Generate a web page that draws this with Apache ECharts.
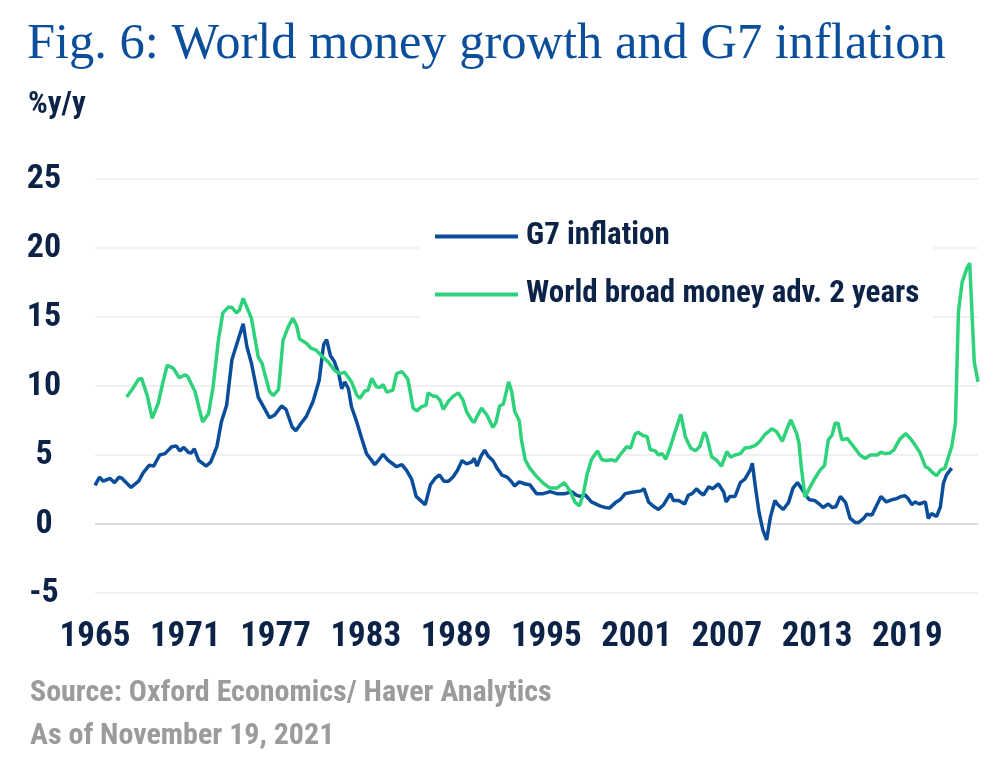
<!DOCTYPE html>
<html>
<head>
<meta charset="utf-8">
<script src="https://cdn.jsdelivr.net/npm/echarts@6/dist/echarts.min.js"></script>
<style>
html,body{margin:0;padding:0;background:#fff;}
#chart{width:1000px;height:773px;}
</style>
</head>
<body>
<div id="chart"></div>
<script>
// ---- data ----
const xTickYears = [1965, 1971, 1977, 1983, 1989, 1995, 2001, 2007, 2013, 2019];
const yTicks = [-5, 0, 5, 10, 15, 20, 25];

const inflYears = [1965.0,1965.3,1965.55,1966.0,1966.3,1966.6,1966.8,1967.4,1967.9,1968.2,1968.6,1968.9,1969.3,1969.65,1970.1,1970.4,1970.65,1970.9,1971.2,1971.4,1971.6,1971.9,1972.4,1972.7,1973.1,1973.4,1973.75,1974.1,1974.5,1974.85,1975.1,1975.4,1975.85,1976.2,1976.6,1976.95,1977.4,1977.7,1978.1,1978.35,1978.7,1979.05,1979.5,1979.9,1980.2,1980.4,1980.65,1980.9,1981.2,1981.4,1981.6,1981.85,1982.05,1982.4,1982.7,1983.05,1983.6,1983.8,1984.15,1984.5,1985.05,1985.4,1985.7,1986.05,1986.35,1986.6,1986.95,1987.3,1987.6,1987.9,1988.2,1988.5,1988.8,1989.1,1989.4,1989.7,1990.05,1990.2,1990.4,1990.65,1990.9,1991.15,1991.45,1991.7,1992.05,1992.4,1992.7,1992.9,1993.2,1993.6,1993.9,1994.35,1994.8,1995.25,1995.7,1996.25,1996.7,1997.0,1997.25,1997.6,1998.0,1998.6,1998.9,1999.2,1999.6,1999.9,2000.25,2000.7,2001.3,2001.5,2001.8,2002.1,2002.45,2002.8,2003.25,2003.45,2003.8,2004.2,2004.45,2004.7,2005.0,2005.2,2005.45,2005.8,2006.05,2006.45,2006.8,2006.95,2007.2,2007.55,2007.9,2008.2,2008.55,2008.7,2008.9,2009.15,2009.4,2009.65,2009.9,2010.2,2010.4,2010.75,2011.1,2011.4,2011.7,2011.95,2012.3,2012.5,2012.85,2013.2,2013.4,2013.75,2014.0,2014.25,2014.55,2014.9,2015.2,2015.55,2015.75,2016.1,2016.3,2016.65,2016.85,2017.25,2017.6,2017.95,2018.3,2018.6,2018.85,2019.05,2019.3,2019.5,2019.8,2020.2,2020.4,2020.6,2020.95,2021.2,2021.4,2021.6,2021.95];
const inflValues = [2.8,3.4,3.1,3.3,3.0,3.4,3.3,2.65,3.1,3.7,4.25,4.2,5.0,5.1,5.6,5.65,5.3,5.55,5.2,5.15,5.45,4.6,4.2,4.5,5.6,7.4,8.6,11.9,13.3,14.5,12.85,11.65,9.2,8.5,7.7,7.9,8.55,8.3,7.05,6.75,7.3,7.8,8.9,10.4,13.0,13.35,12.2,11.8,10.9,9.8,10.3,9.8,8.5,7.4,6.3,5.1,4.3,4.55,5.05,4.6,4.15,4.3,3.9,3.25,2.0,1.75,1.4,2.85,3.3,3.55,3.1,3.1,3.4,3.9,4.6,4.35,4.5,4.75,4.2,4.9,5.35,4.9,4.6,4.1,3.55,3.4,3.05,2.75,3.05,2.9,2.85,2.2,2.2,2.35,2.2,2.2,2.35,2.1,2.0,2.1,1.6,1.3,1.2,1.15,1.55,1.75,2.2,2.3,2.4,2.55,1.6,1.3,1.05,1.4,2.2,1.7,1.7,1.45,2.1,2.2,2.55,2.3,2.1,2.7,2.55,2.9,2.3,1.6,2.0,2.0,3.0,3.25,3.9,4.4,2.7,0.8,-0.45,-1.15,0.5,1.7,1.4,1.05,1.55,2.6,3.0,2.6,2.0,1.75,1.7,1.4,1.2,1.45,1.2,1.25,2.0,1.55,0.4,0.1,0.1,0.4,0.7,0.65,1.1,2.0,1.6,1.75,1.85,2.0,2.05,1.85,1.4,1.6,1.45,1.6,0.4,0.75,0.55,1.25,2.95,3.55,4.05];

const moneyYears = [1967.1,1967.5,1967.9,1968.1,1968.5,1968.8,1969.2,1969.5,1969.8,1970.2,1970.6,1971.0,1971.15,1971.65,1972.15,1972.55,1972.85,1973.2,1973.5,1973.85,1974.1,1974.4,1974.6,1974.85,1975.1,1975.4,1975.85,1976.1,1976.6,1976.85,1977.2,1977.5,1977.85,1978.15,1978.4,1978.6,1979.05,1979.35,1979.7,1980.05,1980.5,1980.95,1981.3,1981.6,1982.05,1982.4,1982.6,1982.95,1983.15,1983.4,1983.7,1983.95,1984.15,1984.4,1984.8,1985.05,1985.4,1985.8,1986.15,1986.4,1986.7,1987.0,1987.15,1987.5,1987.7,1987.95,1988.15,1988.5,1988.8,1989.15,1989.45,1989.7,1990.05,1990.2,1990.4,1990.7,1991.05,1991.45,1991.65,1991.9,1992.15,1992.5,1992.7,1992.9,1993.2,1993.35,1993.6,1993.9,1994.35,1994.8,1995.25,1995.7,1996.2,1996.6,1996.9,1997.2,1997.45,1997.7,1998.0,1998.4,1998.7,1999.0,1999.35,1999.6,1999.9,2000.35,2000.6,2000.9,2001.1,2001.45,2001.7,2001.9,2002.25,2002.45,2002.7,2002.95,2003.25,2003.55,2003.95,2004.25,2004.6,2004.9,2005.2,2005.5,2005.65,2006.0,2006.3,2006.65,2007.0,2007.25,2007.55,2007.9,2008.2,2008.55,2008.9,2009.2,2009.55,2010.0,2010.3,2010.7,2011.0,2011.25,2011.65,2011.8,2011.95,2012.2,2012.5,2012.85,2013.2,2013.5,2013.75,2014.0,2014.2,2014.4,2014.65,2015.0,2015.4,2015.85,2016.2,2016.55,2017.0,2017.25,2017.55,2017.85,2018.1,2018.5,2018.9,2019.2,2019.5,2019.85,2020.2,2020.4,2020.7,2020.95,2021.2,2021.5,2021.7,2021.95,2022.2,2022.4,2022.65,2022.95,2023.15,2023.45,2023.7];
const moneyValues = [9.2,9.8,10.5,10.55,9.2,7.65,8.75,10.2,11.5,11.3,10.6,10.8,10.7,9.6,7.4,8.0,9.95,13.3,15.3,15.7,15.7,15.3,15.5,16.35,15.7,14.9,12.1,11.65,9.6,9.3,9.75,13.3,14.3,14.9,14.4,13.4,13.1,12.75,12.6,12.2,11.75,11.1,10.9,11.0,10.3,9.35,9.1,9.65,9.7,10.55,9.95,9.9,10.1,9.55,9.7,10.9,11.05,10.5,8.4,8.2,8.5,8.6,9.5,9.25,9.25,8.95,8.3,8.9,9.25,9.5,9.0,8.15,7.5,7.35,7.8,8.4,7.9,7.0,7.35,8.55,8.7,10.3,9.6,8.15,7.5,6.1,4.65,4.05,3.45,2.95,2.6,2.6,3.0,2.35,1.6,1.3,2.1,3.55,4.65,5.3,4.65,4.6,4.65,4.55,5.0,5.6,5.5,6.5,6.65,6.4,6.35,5.4,5.3,5.0,5.1,4.7,5.6,6.65,7.95,6.3,5.5,5.3,5.6,6.65,6.4,4.85,4.65,4.2,5.25,4.85,5.0,5.1,5.5,5.55,5.7,6.0,6.5,6.9,6.7,6.0,6.9,7.55,6.55,5.85,4.15,1.95,2.6,3.3,3.9,4.25,6.1,6.45,7.3,7.3,6.1,6.2,5.65,5.0,4.75,5.0,5.0,5.2,5.1,5.15,5.35,6.15,6.55,6.2,5.75,5.15,4.15,4.05,3.7,3.5,3.9,4.05,4.75,5.6,7.3,15.4,17.55,18.5,18.9,11.75,10.3];

const seriesNames = ['G7 inflation', 'World broad money adv. 2 years'];
// ----------------------------------------

const BASE = 1965;
const pairs = (xs, ys) => xs.map((x, i) => [x - BASE, ys[i]]);
const NAVY = '#0c2347';
const COND = 'Roboto';
const CW = 'bold condensed';

const chart = echarts.init(document.getElementById('chart'));
chart.setOption({
  backgroundColor: '#ffffff',
  animation: false,
  title: [
    { text: 'Fig. 6: World money growth and G7 inflation', left: 27, top: 19, padding: 0,
      textStyle: { fontFamily: "'Liberation Serif',serif", fontSize: 50.5, fontWeight: 'normal', color: '#0b4f9c' } },
    { text: '%y/y', left: 28, top: 90, padding: 0,
      textStyle: { fontFamily: COND, fontSize: 31, fontWeight: CW, color: NAVY } },
    { text: 'Source: Oxford Economics/ Haver Analytics', left: 30, top: 678, padding: 0,
      textStyle: { fontFamily: COND, fontSize: 30, fontWeight: CW, color: '#9b9b9b' } },
    { text: 'As of November 19, 2021', left: 30, top: 721, padding: 0,
      textStyle: { fontFamily: COND, fontSize: 30, fontWeight: CW, color: '#9b9b9b' } }
  ],
  legend: {
    data: seriesNames,
    orient: 'vertical',
    left: 419, top: 209,
    padding: [12, 14, 12, 16],
    backgroundColor: '#ffffff',
    icon: 'rect',
    itemWidth: 83, itemHeight: 4,
    itemGap: 27,
    textStyle: { fontFamily: COND, fontSize: 31, fontWeight: CW, color: NAVY, padding: [0, 0, 0, 3] }
  },
  grid: { left: 95, right: 22, top: 179, bottom: 180 },
  xAxis: {
    type: 'value', min: 0, max: 58.7, interval: 6,
    axisLine: { show: false }, axisTick: { show: false }, splitLine: { show: false },
    axisLabel: {
      margin: 27, fontFamily: COND, fontSize: 35, fontWeight: CW, color: NAVY,
      formatter: v => (xTickYears.indexOf(v + BASE) >= 0 ? String(v + BASE) : '')
    }
  },
  yAxis: {
    type: 'value', min: yTicks[0], max: yTicks[yTicks.length - 1], interval: 5,
    axisLine: { show: false }, axisTick: { show: false },
    splitLine: { lineStyle: { width: 2, color: ['#f0f0f0', '#dcdcdc', '#f0f0f0', '#f0f0f0', '#f0f0f0', '#f0f0f0', '#f0f0f0'] } },
    axisLabel: { margin: 51, align: 'center', fontFamily: COND, fontSize: 34, fontWeight: CW, color: NAVY }
  },
  series: [
    { name: seriesNames[0], type: 'line', data: pairs(inflYears, inflValues), showSymbol: false, symbol: 'none',
      lineStyle: { color: '#0a4d9b', width: 3.5 }, itemStyle: { color: '#0a4d9b' } },
    { name: seriesNames[1], type: 'line', data: pairs(moneyYears, moneyValues), showSymbol: false, symbol: 'none',
      lineStyle: { color: '#2dd27b', width: 3.5 }, itemStyle: { color: '#2dd27b' } }
  ]
});
</script>
</body>
</html>
